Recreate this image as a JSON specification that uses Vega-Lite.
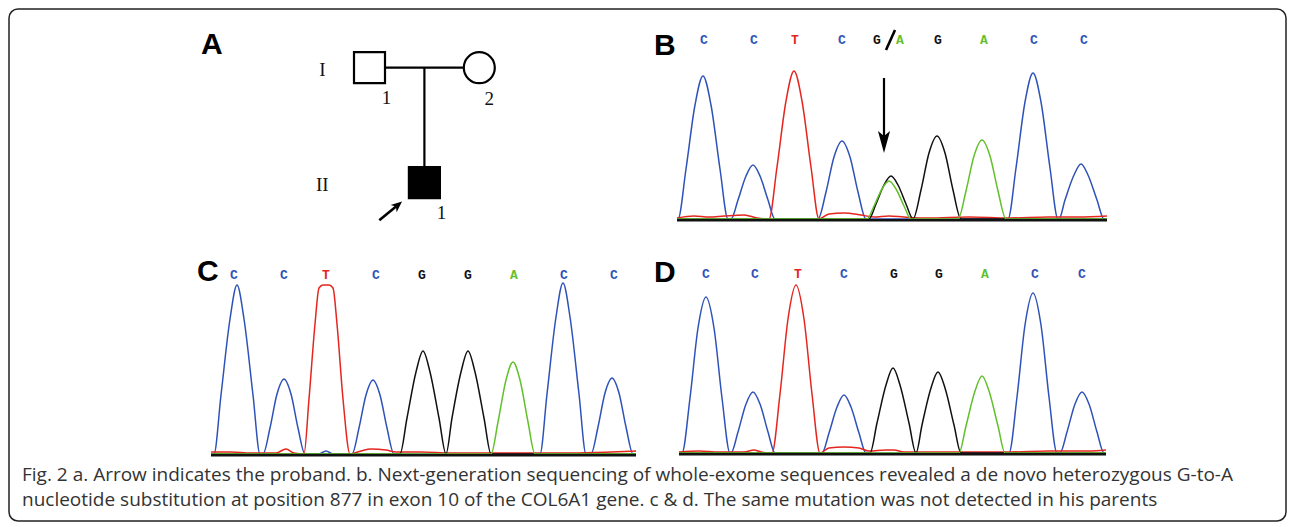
{
  "$schema": "https://vega.github.io/schema/vega-lite/v6.json",
  "padding": {"left": 8, "top": 8, "right": 6, "bottom": 7},
  "background": "white",
  "columns": 2,
  "align": "none",
  "bounds": "flush",
  "spacing": {"row": 4, "column": 8},
  "config": {"view": {"stroke": null}},
  "datasets": {
    "ped": [
      {"id": "I-1", "x": 0, "g": 1, "sex": "M", "aff": "no", "num": "1"},
      {"id": "I-2", "x": 1, "g": 1, "sex": "F", "aff": "no", "num": "2"},
      {"id": "II-1", "x": 0.5, "g": 2, "sex": "M", "aff": "yes", "num": "1"}
    ],
    "traces": [
      {"panel": "B", "ch": "C", "s": [28,29,37,46,54,62,71,79,82,89,97,104,111,119,126,169,177,185,193,201,209,217,359,367,376,384,392,401,409,410,416,425,432,439,448,455,458], "v": [0,0,50,114,143,114,50,0,0,19,43,54,43,19,0,0,27,62,78,62,27,0,0,51,117,146,117,51,0,0,19,44,55,44,19,0,0]},
      {"panel": "B", "ch": "T", "s": [28,45,60,75,95,108,120,128,137,145,153,162,170,180,195,212,225,240,255,280,320,360,400,430,458], "v": [1,3,2,3,4,1,0,52,118,148,118,52,0,5,6,4,2,3,2,1,2,1,2,2,3]},
      {"panel": "B", "ch": "G", "s": [28,220,227,235,242,249,257,264,272,280,288,296,304,312,458], "v": [0,0,15,34,43,34,15,0,29,66,83,66,29,0,0]},
      {"panel": "B", "ch": "A", "s": [28,218,225,233,240,247,255,262,309,317,325,333,341,349,357,458], "v": [0,0,13,30,38,30,13,0,0,28,63,79,63,28,0,0]},
      {"panel": "C", "ch": "C", "s": [20,23,30,39,46,53,62,69,72,79,86,93,100,107,114,128,135,142,161,168,175,182,189,196,203,349,356,365,372,379,388,395,400,407,414,421,428,435,442,445], "v": [0,0,59,135,169,135,59,0,0,26,60,75,60,26,0,0,3,0,0,26,59,74,59,26,0,0,60,137,171,137,60,0,0,27,61,76,61,27,0,0]},
      {"panel": "C", "ch": "T", "s": [20,40,60,85,95,103,113,118,124,128,132,138,142,146,152,159,170,180,195,205,230,260,300,340,380,420,445], "v": [2,2,1,1,5,1,0,55,130,166,169,169,166,130,55,0,3,5,4,2,2,1,1,1,1,2,3]},
      {"panel": "C", "ch": "G", "s": [20,209,216,225,232,239,248,255,261,270,277,284,293,300,445], "v": [0,0,36,82,103,82,36,0,36,82,103,82,36,0,0]},
      {"panel": "C", "ch": "A", "s": [20,300,307,315,322,329,337,344,445], "v": [0,0,32,74,92,74,32,0,0]},
      {"panel": "D", "ch": "C", "s": [30,33,41,49,57,65,73,81,82,89,97,104,111,119,126,173,180,188,195,202,210,217,360,368,376,384,392,400,408,411,418,426,433,440,448,455,457], "v": [0,0,55,125,156,125,55,0,0,21,49,61,49,21,0,0,20,46,58,46,20,0,0,56,128,160,128,56,0,0,21,49,61,49,21,0,0]},
      {"panel": "D", "ch": "T", "s": [30,50,70,95,105,112,123,131,139,147,155,163,171,180,195,210,220,237,245,255,280,320,360,400,440,457], "v": [1,2,1,1,3,1,0,59,134,168,134,59,0,5,6,5,2,3,3,1,1,1,1,2,2,3]},
      {"panel": "D", "ch": "G", "s": [30,221,228,237,244,251,260,267,273,282,289,296,305,312,457], "v": [0,0,30,68,85,68,30,0,28,65,81,65,28,0,0]},
      {"panel": "D", "ch": "A", "s": [30,310,317,326,333,340,349,356,457], "v": [0,0,27,62,77,62,27,0,0]}
    ],
    "letters": [
      {"panel": "B", "base": "C", "s": 55}, {"panel": "B", "base": "C", "s": 105}, {"panel": "B", "base": "T", "s": 146},
      {"panel": "B", "base": "C", "s": 193}, {"panel": "B", "base": "G", "s": 228}, {"panel": "B", "base": "A", "s": 251},
      {"panel": "B", "base": "G", "s": 289}, {"panel": "B", "base": "A", "s": 335}, {"panel": "B", "base": "C", "s": 385},
      {"panel": "B", "base": "C", "s": 435},
      {"panel": "C", "base": "C", "s": 43}, {"panel": "C", "base": "C", "s": 93}, {"panel": "C", "base": "T", "s": 135},
      {"panel": "C", "base": "C", "s": 185}, {"panel": "C", "base": "G", "s": 231}, {"panel": "C", "base": "G", "s": 277},
      {"panel": "C", "base": "A", "s": 323}, {"panel": "C", "base": "C", "s": 373}, {"panel": "C", "base": "C", "s": 423},
      {"panel": "D", "base": "C", "s": 57}, {"panel": "D", "base": "C", "s": 106}, {"panel": "D", "base": "T", "s": 149},
      {"panel": "D", "base": "C", "s": 195}, {"panel": "D", "base": "G", "s": 245}, {"panel": "D", "base": "G", "s": 290},
      {"panel": "D", "base": "A", "s": 336}, {"panel": "D", "base": "C", "s": 386}, {"panel": "D", "base": "C", "s": 433}
    ]
  },
  "concat": [
    {
      "width": 625, "height": 232,
      "layer": [
        {
          "data": {"values": [{"rel": "marriage", "x1": 0, "x2": 1, "g1": 1, "g2": 1}, {"rel": "descent", "x1": 0.5, "x2": 0.5, "g1": 1, "g2": 2}]},
          "mark": {"type": "rule", "stroke": "black", "strokeWidth": 2.2},
          "encoding": {
            "x": {"field": "x1", "type": "quantitative", "scale": {"domain": [-3.2195, 2.4727], "nice": false, "zero": false}, "axis": null},
            "x2": {"field": "x2"},
            "y": {"field": "g1", "type": "quantitative", "scale": {"domain": [0.6113, 2.6287], "reverse": true, "nice": false, "zero": false}, "axis": null},
            "y2": {"field": "g2"}
          }
        },
        {
          "data": {"name": "ped"},
          "mark": {"type": "point", "filled": true, "size": 961, "stroke": "black", "strokeWidth": 2.2, "opacity": 1},
          "encoding": {
            "x": {"field": "x", "type": "quantitative"},
            "y": {"field": "g", "type": "quantitative"},
            "shape": {"field": "sex", "type": "nominal", "scale": {"domain": ["M", "F"], "range": ["square", "circle"]}, "legend": null},
            "fill": {"field": "aff", "type": "nominal", "scale": {"domain": ["no", "yes"], "range": ["white", "black"]}, "legend": null}
          }
        },
        {
          "data": {"name": "ped"},
          "transform": [{"filter": "datum.sex === 'M'"}],
          "mark": {"type": "text", "font": "Liberation Serif", "fontSize": 19, "color": "#111", "align": "center", "baseline": "middle", "dx": 17, "dy": 30},
          "encoding": {
            "x": {"field": "x", "type": "quantitative"},
            "y": {"field": "g", "type": "quantitative"},
            "text": {"field": "num"}
          }
        },
        {
          "data": {"name": "ped"},
          "transform": [{"filter": "datum.sex === 'F'"}],
          "mark": {"type": "text", "font": "Liberation Serif", "fontSize": 19, "color": "#111", "align": "center", "baseline": "middle", "dx": 10, "dy": 31},
          "encoding": {
            "x": {"field": "x", "type": "quantitative"},
            "y": {"field": "g", "type": "quantitative"},
            "text": {"field": "num"}
          }
        },
        {
          "data": {"values": [{"g": 1, "t": "I"}, {"g": 2, "t": "II"}]},
          "mark": {"type": "text", "font": "Liberation Serif", "fontSize": 19, "color": "#111", "align": "center", "baseline": "middle", "dy": 2},
          "encoding": {
            "x": {"datum": -0.43, "type": "quantitative"},
            "y": {"field": "g", "type": "quantitative"},
            "text": {"field": "t"}
          }
        },
        {
          "data": {"values": [{}]},
          "mark": {"type": "rule", "stroke": "black", "strokeWidth": 2.6},
          "encoding": {
            "x": {"datum": 0.0893, "type": "quantitative"},
            "x2": {"datum": 0.25},
            "y": {"datum": 2.327, "type": "quantitative"},
            "y2": {"datum": 2.2}
          }
        },
        {
          "data": {"values": [{}]},
          "mark": {"type": "point", "shape": "M0,-1L0.85,1L0,0.45L-0.85,1Z", "angle": 50, "size": 121, "filled": true, "color": "black", "opacity": 1},
          "encoding": {
            "x": {"datum": 0.258, "type": "quantitative"},
            "y": {"datum": 2.194, "type": "quantitative"}
          }
        },
        {
          "data": {"values": [{}]},
          "mark": {"type": "text", "text": "A", "font": "Liberation Sans", "fontWeight": "bold", "fontSize": 30, "color": "black", "align": "left", "baseline": "alphabetic"},
          "encoding": {
            "x": {"datum": -1.5346, "type": "quantitative"},
            "y": {"datum": 0.881, "type": "quantitative"}
          }
        }
      ]
    },
    {
      "width": 464, "height": 232,
      "layer": [
        {
          "data": {"name": "traces"},
          "transform": [{"filter": "datum.panel === 'B'"}, {"flatten": ["s", "v"]}],
          "mark": {"type": "line", "strokeWidth": 1.5, "interpolate": "monotone"},
          "encoding": {
            "x": {"field": "s", "type": "quantitative", "scale": {"domain": [0, 464], "nice": false, "zero": false}, "axis": null},
            "y": {"field": "v", "type": "quantitative", "scale": {"domain": [-36, 196], "nice": false, "zero": false}, "axis": null},
            "color": {"field": "ch", "type": "nominal", "scale": {"domain": ["A", "C", "G", "T"], "range": ["#62c02a", "#2f52b8", "#111111", "#e5261f"]}, "legend": null}
          }
        },
        {
          "data": {"values": [{}]},
          "mark": {"type": "rule", "stroke": "#111", "strokeWidth": 2.6},
          "encoding": {
            "x": {"datum": 28, "type": "quantitative"},
            "x2": {"datum": 458},
            "y": {"datum": -1.2, "type": "quantitative"}
          }
        },
        {
          "data": {"name": "letters"},
          "transform": [{"filter": "datum.panel === 'B'"}],
          "mark": {"type": "text", "font": "Liberation Mono", "fontWeight": "bold", "fontSize": 13, "align": "center", "baseline": "middle"},
          "encoding": {
            "x": {"field": "s", "type": "quantitative"},
            "y": {"datum": 179, "type": "quantitative"},
            "text": {"field": "base"},
            "color": {"field": "base", "type": "nominal", "scale": {"domain": ["A", "C", "G", "T"], "range": ["#62c02a", "#2f52b8", "#111111", "#e5261f"]}, "legend": null}
          }
        },
        {
          "data": {"values": [{}]},
          "mark": {"type": "rule", "stroke": "black", "strokeWidth": 2.6},
          "encoding": {
            "x": {"datum": 237, "type": "quantitative"},
            "x2": {"datum": 246},
            "y": {"datum": 169, "type": "quantitative"},
            "y2": {"datum": 189}
          }
        },
        {
          "data": {"values": [{}]},
          "mark": {"type": "rule", "stroke": "black", "strokeWidth": 2.2},
          "encoding": {
            "x": {"datum": 235, "type": "quantitative"},
            "y": {"datum": 141, "type": "quantitative"},
            "y2": {"datum": 80}
          }
        },
        {
          "data": {"values": [{}]},
          "mark": {"type": "point", "shape": "M0,1L-0.55,-1L0,-0.55L0.55,-1Z", "size": 484, "filled": true, "color": "black", "opacity": 1},
          "encoding": {
            "x": {"datum": 235, "type": "quantitative"},
            "y": {"datum": 77, "type": "quantitative"}
          }
        },
        {
          "data": {"values": [{}]},
          "mark": {"type": "text", "text": "B", "font": "Liberation Sans", "fontWeight": "bold", "fontSize": 30, "color": "black", "align": "left", "baseline": "alphabetic"},
          "encoding": {
            "x": {"datum": 5, "type": "quantitative"},
            "y": {"datum": 164, "type": "quantitative"}
          }
        }
      ]
    },
    {
      "width": 625, "height": 200,
      "layer": [
        {
          "data": {"name": "traces"},
          "transform": [{"filter": "datum.panel === 'C'"}, {"flatten": ["s", "v"]}],
          "mark": {"type": "line", "strokeWidth": 1.5, "interpolate": "monotone"},
          "encoding": {
            "x": {"field": "s", "type": "quantitative", "scale": {"domain": [-175, 450], "nice": false, "zero": false}, "axis": null},
            "y": {"field": "v", "type": "quantitative", "scale": {"domain": [-5, 195], "nice": false, "zero": false}, "axis": null},
            "color": {"field": "ch", "type": "nominal", "scale": {"domain": ["A", "C", "G", "T"], "range": ["#62c02a", "#2f52b8", "#111111", "#e5261f"]}, "legend": null}
          }
        },
        {
          "data": {"values": [{}]},
          "mark": {"type": "rule", "stroke": "#111", "strokeWidth": 2.6},
          "encoding": {
            "x": {"datum": 20, "type": "quantitative"},
            "x2": {"datum": 445},
            "y": {"datum": -1.2, "type": "quantitative"}
          }
        },
        {
          "data": {"name": "letters"},
          "transform": [{"filter": "datum.panel === 'C'"}],
          "mark": {"type": "text", "font": "Liberation Mono", "fontWeight": "bold", "fontSize": 13, "align": "center", "baseline": "middle"},
          "encoding": {
            "x": {"field": "s", "type": "quantitative"},
            "y": {"datum": 179, "type": "quantitative"},
            "text": {"field": "base"},
            "color": {"field": "base", "type": "nominal", "scale": {"domain": ["A", "C", "G", "T"], "range": ["#62c02a", "#2f52b8", "#111111", "#e5261f"]}, "legend": null}
          }
        },
        {
          "data": {"values": [{}]},
          "mark": {"type": "text", "text": "C", "font": "Liberation Sans", "fontWeight": "bold", "fontSize": 30, "color": "black", "align": "left", "baseline": "alphabetic"},
          "encoding": {
            "x": {"datum": 6, "type": "quantitative"},
            "y": {"datum": 173, "type": "quantitative"}
          }
        }
      ]
    },
    {
      "width": 464, "height": 200,
      "layer": [
        {
          "data": {"name": "traces"},
          "transform": [{"filter": "datum.panel === 'D'"}, {"flatten": ["s", "v"]}],
          "mark": {"type": "line", "strokeWidth": 1.5, "interpolate": "monotone"},
          "encoding": {
            "x": {"field": "s", "type": "quantitative", "scale": {"domain": [0, 464], "nice": false, "zero": false}, "axis": null},
            "y": {"field": "v", "type": "quantitative", "scale": {"domain": [-6, 194], "nice": false, "zero": false}, "axis": null},
            "color": {"field": "ch", "type": "nominal", "scale": {"domain": ["A", "C", "G", "T"], "range": ["#62c02a", "#2f52b8", "#111111", "#e5261f"]}, "legend": null}
          }
        },
        {
          "data": {"values": [{}]},
          "mark": {"type": "rule", "stroke": "#111", "strokeWidth": 2.6},
          "encoding": {
            "x": {"datum": 30, "type": "quantitative"},
            "x2": {"datum": 457},
            "y": {"datum": -1.2, "type": "quantitative"}
          }
        },
        {
          "data": {"name": "letters"},
          "transform": [{"filter": "datum.panel === 'D'"}],
          "mark": {"type": "text", "font": "Liberation Mono", "fontWeight": "bold", "fontSize": 13, "align": "center", "baseline": "middle"},
          "encoding": {
            "x": {"field": "s", "type": "quantitative"},
            "y": {"datum": 179, "type": "quantitative"},
            "text": {"field": "base"},
            "color": {"field": "base", "type": "nominal", "scale": {"domain": ["A", "C", "G", "T"], "range": ["#62c02a", "#2f52b8", "#111111", "#e5261f"]}, "legend": null}
          }
        },
        {
          "data": {"values": [{}]},
          "mark": {"type": "text", "text": "D", "font": "Liberation Sans", "fontWeight": "bold", "fontSize": 30, "color": "black", "align": "left", "baseline": "alphabetic"},
          "encoding": {
            "x": {"datum": 5, "type": "quantitative"},
            "y": {"datum": 171, "type": "quantitative"}
          }
        }
      ]
    },
    {
      "width": 625, "height": 58,
      "layer": [
        {
          "data": {"values": [
            {"line": 1, "text": "Fig. 2 a. Arrow indicates the proband. b. Next-generation sequencing of whole-exome sequences revealed a de novo heterozygous G-to-A"},
            {"line": 2, "text": "nucleotide substitution at position 877 in exon 10 of the COL6A1 gene. c & d. The same mutation was not detected in his parents"}
          ]},
          "mark": {"type": "text", "align": "left", "baseline": "alphabetic", "font": "Open Sans", "fontSize": 19, "color": "#333333"},
          "encoding": {
            "x": {"datum": 6, "type": "quantitative", "scale": {"domain": [0, 625], "nice": false, "zero": false}, "axis": null},
            "y": {"field": "line", "type": "quantitative", "scale": {"domain": [2.6, 0.28], "nice": false, "zero": false}, "axis": null},
            "text": {"field": "text"}
          }
        },
        {
          "data": {"values": [{}]},
          "mark": {"type": "rect", "fill": null, "fillOpacity": 0, "stroke": "#222222", "strokeWidth": 1.5, "cornerRadius": 9},
          "encoding": {
            "x": {"datum": -7, "type": "quantitative"},
            "x2": {"datum": 1270},
            "y": {"datum": -17.88, "type": "quantitative"},
            "y2": {"datum": 2.6}
          }
        }
      ]
    }
  ]
}
